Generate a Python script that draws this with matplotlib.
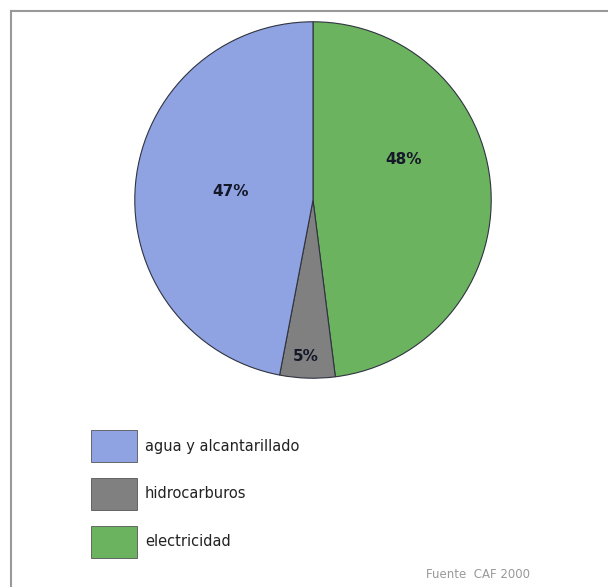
import matplotlib.pyplot as plt
from matplotlib.lines import Line2D
from matplotlib.patches import Rectangle

categories = ["electricidad", "hidrocarburos", "agua y alcantarillado"]
shares = [48, 5, 47]
colors = ["#6cb35f", "#808080", "#8fa2e2"]

legend_order = ["agua y alcantarillado", "hidrocarburos", "electricidad"]
source = "Fuente  CAF 2000"

plt.rcParams['font.family'] = ['Liberation Sans Narrow', 'DejaVu Sans']

fig = plt.figure(figsize=(6.08, 5.87), dpi=100)
fig.patch.set_facecolor("white")

# frame lines (top and left only, like the scan)
fig.add_artist(Line2D([11 / 608, 11 / 608], [0, 1 - 11 / 587], transform=fig.transFigure,
                      color="#999999", lw=1.5))
fig.add_artist(Line2D([11 / 608, 1], [1 - 11 / 587, 1 - 11 / 587], transform=fig.transFigure,
                      color="#999999", lw=1.5))

ax = fig.add_axes([133 / 608, 1 - 380 / 587, 360 / 608, 360 / 587])
wedges, _ = ax.pie(shares, colors=colors, startangle=90, counterclock=False,
                   wedgeprops=dict(edgecolor="#2f3340", linewidth=0.8))
ax.set_xlim(-1.01, 1.01)
ax.set_ylim(-1.01, 1.01)

# percentage labels (placed roughly where the original has them)
label_pos = [(0.51, 0.23), (-0.04, -0.88), (-0.46, 0.05)]
for (x, y), v in zip(label_pos, shares):
    ax.text(x, y, f"{v}%", ha="center", va="center", fontsize=11,
            fontweight="bold", color="#141828")

# legend
col = dict(zip(categories, colors))
box_y = [446, 494, 542]
for name, yc in zip(legend_order, box_y):
    fig.add_artist(Rectangle((91 / 608, 1 - (yc + 16) / 587), 46 / 608, 32 / 587,
                             transform=fig.transFigure, facecolor=col[name],
                             edgecolor="#555555", lw=0.6))
    fig.text(145 / 608, 1 - yc / 587, name, ha="left", va="center",
             fontsize=10.5, color="#222222")

fig.text(426 / 608, 1 - 574 / 587, source, ha="left", va="center",
         fontsize=8.5, color="#999999")

fig.savefig("out.png", dpi=100, facecolor="white")
